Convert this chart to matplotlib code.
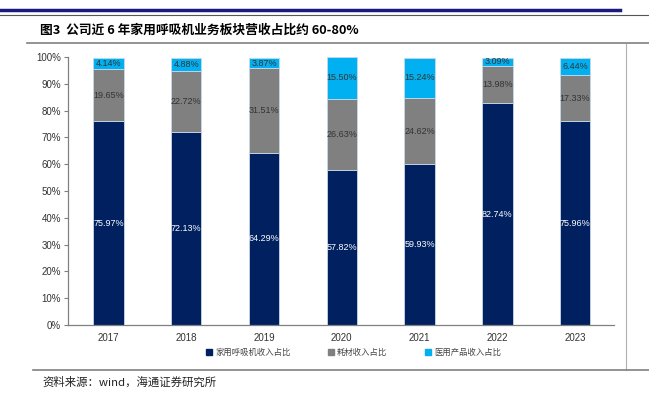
import matplotlib
matplotlib.use("Agg")
import matplotlib.pyplot as plt
from matplotlib.lines import Line2D
from matplotlib.ticker import PercentFormatter

plt.rcParams['font.family'] = ['Liberation Sans', 'Noto Sans CJK SC', 'DejaVu Sans']

years = ['2017', '2018', '2019', '2020', '2021', '2022', '2023']
home = [75.97, 72.13, 64.29, 57.82, 59.93, 82.74, 75.96]
consumables = [19.65, 22.72, 31.51, 26.63, 24.62, 13.98, 17.33]
medical = [4.14, 4.88, 3.87, 15.50, 15.24, 3.09, 6.44]
series_names = ['家用呼吸机收入占比', '耗材收入占比', '医用产品收入占比']
colors = ['#002060', '#808080', '#00B0F0']
label_colors = ['white', '#333333', '#333333']

W, H = 649, 393
fig = plt.figure(figsize=(W / 100, H / 100), dpi=100)

ax = fig.add_axes([68 / W, 1 - 325 / H, (614 - 68) / W, (325 - 57) / H])
x = list(range(len(years)))
bottom = [0.0] * len(years)
for vals, c, lc, name in zip([home, consumables, medical], colors, label_colors, series_names):
    ax.bar(x, vals, width=0.39, bottom=bottom, color=c, edgecolor='#c8d8e8', linewidth=0.6, label=name)
    for xi, b, v in zip(x, bottom, vals):
        ax.text(xi, b + v / 2, f'{v:.2f}%', ha='center', va='center', fontsize=6.5, color=lc)
    bottom = [b + v for b, v in zip(bottom, vals)]

ax.set_xlim(-0.52, 6.5)
ax.set_ylim(0, 100)
ax.set_yticks(range(0, 101, 10))
ax.yaxis.set_major_formatter(PercentFormatter(decimals=0))
ax.set_xticks(x)
ax.set_xticklabels(years)
ax.tick_params(axis='x', length=0, labelsize=7, colors='#333333', pad=6)
ax.tick_params(axis='y', length=3, width=0.8, color='#808080', labelsize=7, labelcolor='#333333', pad=2)
for s in ['top', 'right']:
    ax.spines[s].set_visible(False)
ax.spines['left'].set_color('#808080')
ax.spines['bottom'].set_color('#808080')
ax.spines['left'].set_linewidth(0.9)
ax.spines['bottom'].set_linewidth(0.9)

handles = [Line2D([], [], marker='s', linestyle='none', markersize=4, color=c) for c in colors]
leg = fig.legend(handles, series_names, loc='center left', bbox_to_anchor=(200 / W, 1 - 352 / H), ncol=3,
                 frameon=False, handletextpad=0.1, columnspacing=4.3, handlelength=1.2, borderpad=0,
                 prop={'family': ['Noto Sans CJK SC'], 'size': 6})
for t in leg.get_texts():
    t.set_color('#444444')

# page decorations
fig.add_artist(Line2D([0, 620 / W], [1 - 10 / H, 1 - 10 / H], color='#1a1a80', linewidth=2.5))
fig.add_artist(Line2D([0, 1], [1 - 15 / H, 1 - 15 / H], color='#555555', linewidth=0.8))
fig.add_artist(Line2D([27 / W, 1], [1 - 43 / H, 1 - 43 / H], color='#808080', linewidth=1.2))
fig.add_artist(Line2D([626 / W, 626 / W], [1 - 44 / H, 1 - 370 / H], color='#b0b0b0', linewidth=0.8))
fig.add_artist(Line2D([33 / W, 1], [1 - 370 / H, 1 - 370 / H], color='#808080', linewidth=1.2))

fig.text(40 / W, 1 - 30 / H, '图3  公司近 6 年家用呼吸机业务板块营收占比约 60-80%', fontsize=9.2, fontweight='bold',
         va='center', ha='left', family=['Noto Sans CJK SC', 'DejaVu Sans'])
fig.text(42 / W, 1 - 382 / H, '资料来源：wind，海通证券研究所', fontsize=8.2, va='center', ha='left',
         family=['Noto Sans CJK SC', 'DejaVu Sans'], color='#222222')

fig.savefig('out.png', dpi=100)
